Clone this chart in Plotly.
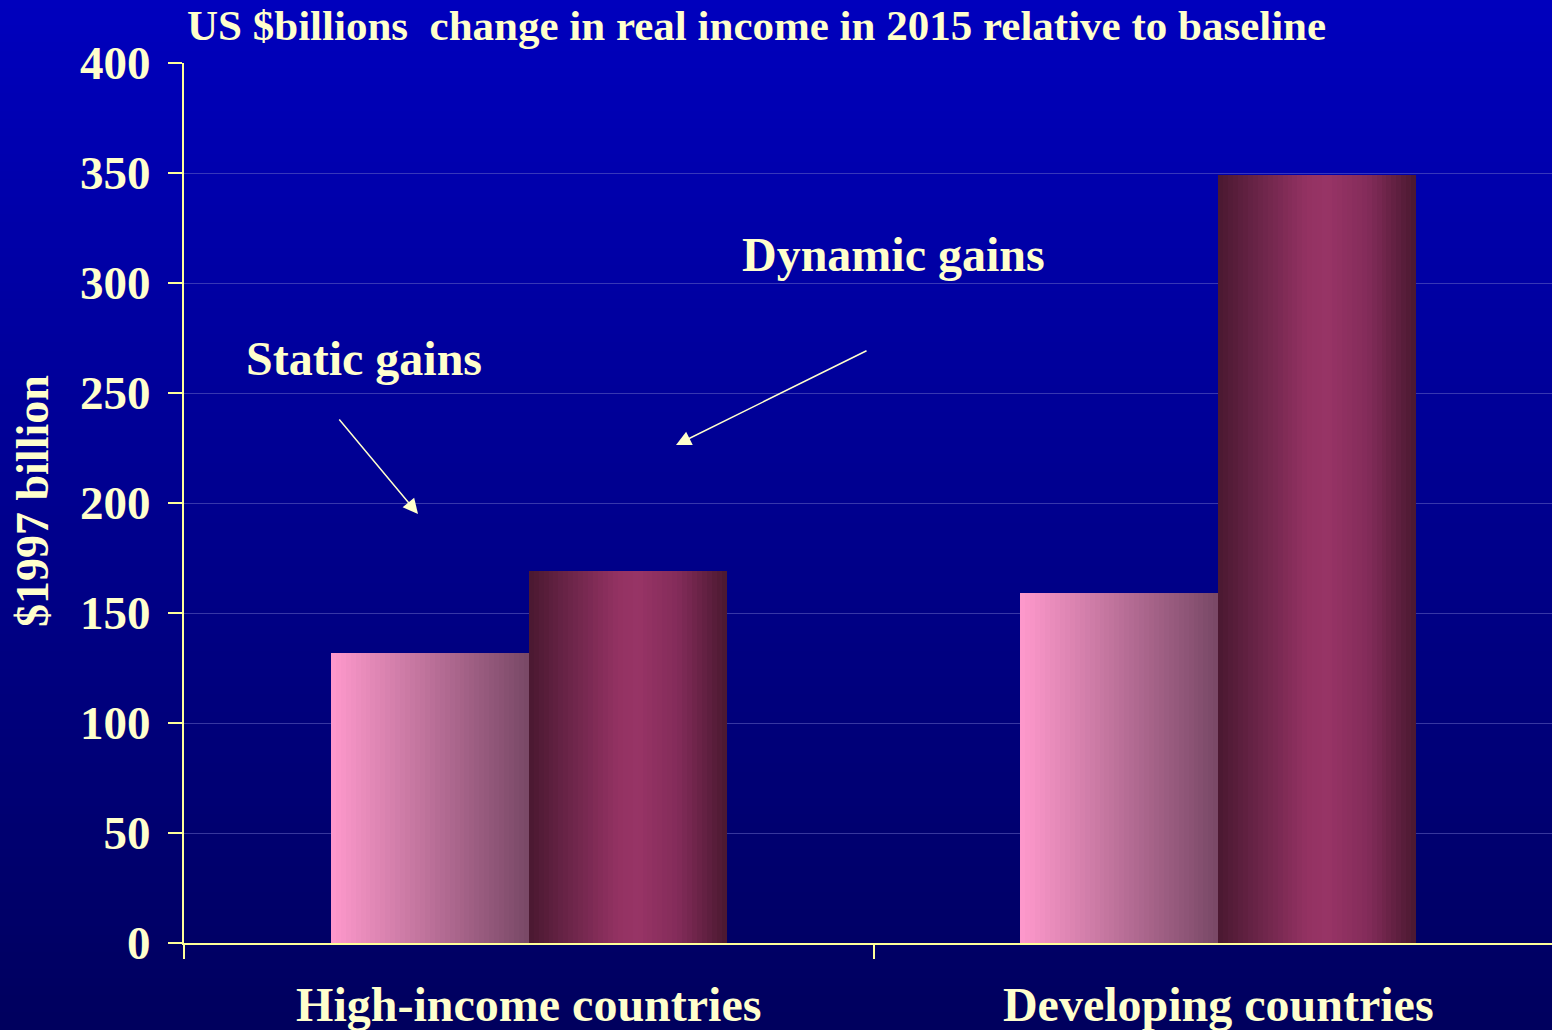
import plotly.graph_objects as go
import numpy as np

# ---- data ----
categories = ["High-income countries", "Developing countries"]
static_gains = [132, 159]
dynamic_gains = [169, 349]
y_ticks = [0, 50, 100, 150, 200, 250, 300, 350, 400]

TXT = "#FFFFCC"
AXC = "#FFFF99"
FONT = "Liberation Serif"

W, H = 1552, 1030
ML, MT, MB = 184, 63, 87
PW, PH = W - ML, H - MT - MB

def hex2rgb(h):
    h = h.lstrip("#")
    return [int(h[i:i + 2], 16) for i in (0, 2, 4)]

def interp(stops, t):
    for (t0, c0), (t1, c1) in zip(stops[:-1], stops[1:]):
        if t0 <= t <= t1:
            f = (t - t0) / (t1 - t0) if t1 > t0 else 0
            a, b = hex2rgb(c0), hex2rgb(c1)
            return "rgb(%d,%d,%d)" % tuple(round(a[i] + (b[i] - a[i]) * f) for i in range(3))
    return stops[-1][1]

static_stops = [(0, "#FF99CC"), (1, "#784866")]
dynamic_stops = [(0, "#4A1830"), (0.2, "#6A2448"), (0.45, "#933262"),
                 (0.55, "#983466"), (0.75, "#842C5A"), (1, "#4A1830")]

bar_w = 0.287
N = 40
dw = bar_w / N

fig = go.Figure()
for name, vals, stops, base in [("Static gains", static_gains, static_stops, -bar_w),
                                ("Dynamic gains", dynamic_gains, dynamic_stops, 0.0)]:
    for i in range(N):
        t = (i + 0.5) / N
        w = dw * (1.6 if i < N - 1 else 1.0)
        fig.add_trace(go.Bar(
            x=categories, y=vals, name=name, width=w, offset=base + i * dw,
            marker=dict(color=interp(stops, t), line=dict(width=0)),
            showlegend=False, hoverinfo="skip" if i else "y+name"))

# background vertical gradient (top bright blue -> bottom navy)
shapes = []
NB = 120
top_c, bot_c = np.array([0, 0, 190]), np.array([0, 0, 94])
for k in range(NB):
    py0 = k * H / NB
    py1 = (k + 1) * H / NB
    t = (k + 0.5) / NB
    c = top_c + (bot_c - top_c) * t
    shapes.append(dict(type="rect", xref="paper", yref="paper",
                       x0=-ML / PW - 0.01, x1=1.01,
                       y0=(H - MB - py1 - 0.6) / PH, y1=(H - MB - py0 + 0.6) / PH,
                       fillcolor="rgb(%d,%d,%d)" % tuple(c.astype(int)),
                       line=dict(width=0), layer="below"))

def px2x(px):
    return (px - ML) / 689.5 - 0.5

def px2y(py):
    return (H - MB - py) / 2.2

BF = dict(family=FONT, color=TXT, weight="bold")

annotations = [
    dict(text="Static gains", x=px2x(364), y=px2y(358), xref="x", yref="y",
         showarrow=False, font=dict(BF, size=48)),
    dict(text="Dynamic gains", x=px2x(893), y=px2y(254), xref="x", yref="y",
         showarrow=False, font=dict(BF, size=48)),
    dict(text="", x=px2x(418), y=px2y(514), ax=px2x(338), ay=px2y(418),
         xref="x", yref="y", axref="x", ayref="y", showarrow=True,
         arrowhead=2, arrowsize=2, arrowwidth=1.5, arrowcolor=TXT),
    dict(text="", x=px2x(676), y=px2y(445), ax=px2x(868), ay=px2y(350),
         xref="x", yref="y", axref="x", ayref="y", showarrow=True,
         arrowhead=2, arrowsize=2, arrowwidth=1.5, arrowcolor=TXT),
    dict(text="$1997 billion", textangle=-90, x=(33 - ML) / PW, y=(H - MB - 501) / PH,
         xref="paper", yref="paper", xanchor="center", yanchor="middle",
         showarrow=False, font=dict(BF, size=46)),
]

fig.update_layout(
    width=W, height=H,
    margin=dict(l=ML, r=0, t=MT, b=MB, pad=0),
    paper_bgcolor="#00008C", plot_bgcolor="rgba(0,0,0,0)",
    barmode="overlay", bargap=0,
    shapes=shapes, annotations=annotations,
    title=dict(text="US $billions  change in real income in 2015 relative to baseline",
               x=187 / W, xanchor="left", xref="container",
               y=1 - 25 / H, yanchor="middle", yref="container",
               font=dict(BF, size=43)),
    font=dict(family=FONT, color=TXT),
)
fig.update_xaxes(range=[-0.5, 1.484], type="category", tickson="boundaries",
                 ticks="outside", ticklen=14, tickwidth=2, tickcolor=AXC,
                 showline=True, linecolor=AXC, linewidth=2, showgrid=False,
                 tickfont=dict(BF, size=48),
                 ticklabelstandoff=18)
fig.update_yaxes(range=[0, 400], tickvals=y_ticks, ticks="outside", ticklen=14,
                 tickwidth=2, tickcolor=AXC, showline=True, linecolor=AXC, linewidth=2,
                 showgrid=True, gridcolor="rgba(110,110,200,0.5)", gridwidth=1,
                 zeroline=False, ticklabelstandoff=8,
                 tickfont=dict(BF, size=47))

fig.write_html("out.html", config={"displayModeBar": False},
               post_script="document.body.style.margin='0';document.body.style.padding='0';"
                           "document.body.style.background='#00008C';")
